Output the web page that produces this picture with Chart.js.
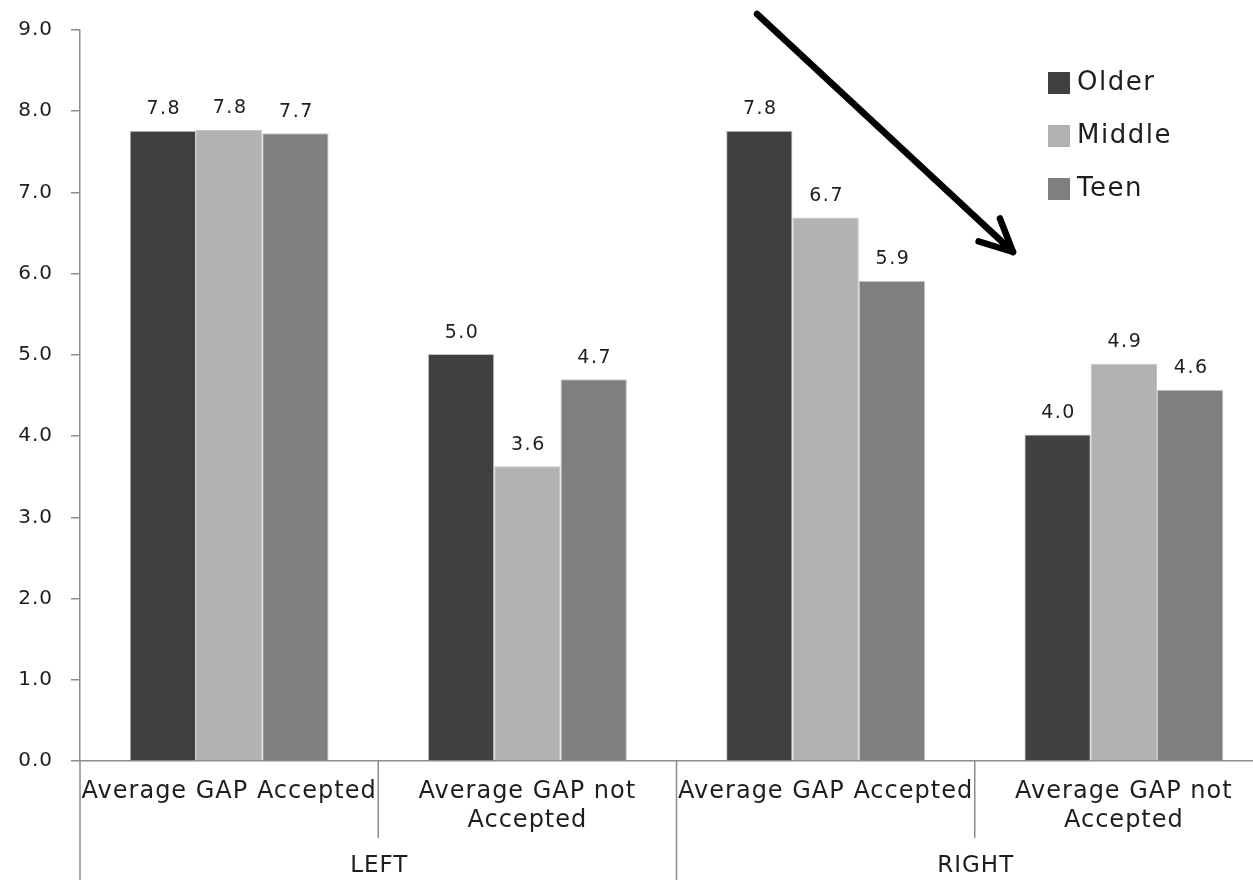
<!DOCTYPE html>
<html lang="en">
<head>
  <meta charset="UTF-8">
  <title>Average GAP by age group</title>
  <script src="https://cdn.jsdelivr.net/npm/chart.js@4.4.0/dist/chart.umd.min.js"></script>
  <style>
    body {
      margin: 0;
      padding: 0;
      background: #fff;
      overflow: hidden;
    }
    .wrap {
      position: relative;
      width: 1278px;
      height: 880px;
    }
  </style>
</head>
<body>
  <div class="wrap">
    <canvas id="myChart"></canvas>
  </div>
  <script>
    // categories (two levels) and series
    const categories = [
      'Average GAP Accepted',
      ['Average GAP not', 'Accepted'],
      'Average GAP Accepted',
      ['Average GAP not', 'Accepted']
    ];
    const groups = ['LEFT', 'RIGHT'];
    const older = [7.76, 5.01, 7.76, 4.02];
    const middle = [7.77, 3.63, 6.69, 4.89];
    const teen = [7.73, 4.70, 5.91, 4.57];
    const seriesNames = ['Older', 'Middle', 'Teen'];
    const seriesColors = ['#404040', '#b2b2b2', '#7f7f7f'];
    const yTicks = [0, 1, 2, 3, 4, 5, 6, 7, 8, 9];

    const axisColor = '#8c8c8c';
    const textColor = '#1e1e1e';

    // the original text is a bit stretched sideways, widen it a little
    const wideText = {
      id: 'wideText',
      beforeDraw(chart) {
        chart.ctx.letterSpacing = '1px';
      }
    };

    // value labels above each bar
    const valueLabels = {
      id: 'valueLabels',
      afterDatasetsDraw(chart) {
        const ctx = chart.ctx;
        ctx.save();
        ctx.letterSpacing = '1.5px';
        ctx.font = '19px "DejaVu Sans"';
        ctx.fillStyle = textColor;
        ctx.textAlign = 'center';
        ctx.textBaseline = 'bottom';
        chart.data.datasets.forEach((ds, i) => {
          chart.getDatasetMeta(i).data.forEach((bar, j) => {
            ctx.fillText(ds.data[j].toFixed(1), bar.x + 1, bar.y - 12);
          });
        });
        ctx.restore();
      }
    };

    // category separators + group labels (LEFT / RIGHT)
    const groupAxis = {
      id: 'groupAxis',
      afterDraw(chart) {
        const ctx = chart.ctx;
        const x = chart.scales.x;
        const area = chart.chartArea;
        const step = x.getPixelForValue(1) - x.getPixelForValue(0);
        ctx.save();
        ctx.strokeStyle = axisColor;
        ctx.lineWidth = 1.5;
        for (let i = 0; i <= categories.length; i++) {
          const px = x.getPixelForValue(0) - step / 2 + i * step;
          const end = (i % 2 === 0) ? chart.height : area.bottom + 77;
          ctx.beginPath();
          ctx.moveTo(px, area.bottom);
          ctx.lineTo(px, end);
          ctx.stroke();
        }
        ctx.letterSpacing = '1px';
        ctx.font = '23px "DejaVu Sans"';
        ctx.fillStyle = textColor;
        ctx.textAlign = 'center';
        ctx.textBaseline = 'middle';
        groups.forEach((g, k) => {
          const cx = (x.getPixelForValue(k * 2) + x.getPixelForValue(k * 2 + 1)) / 2;
          ctx.fillText(g, cx + 1, area.bottom + 105);
        });
        ctx.restore();
      }
    };

    // legend inside the plot, top right
    const cornerLegend = {
      id: 'cornerLegend',
      afterDraw(chart) {
        const ctx = chart.ctx;
        const area = chart.chartArea;
        const left = area.right - 225;
        ctx.save();
        ctx.letterSpacing = '1.5px';
        ctx.font = '26px "DejaVu Sans"';
        ctx.textBaseline = 'middle';
        ctx.textAlign = 'left';
        chart.data.datasets.forEach((ds, i) => {
          const cy = area.top + 53 + i * 53;
          ctx.fillStyle = ds.backgroundColor;
          ctx.fillRect(left, cy - 11, 22, 22);
          ctx.fillStyle = textColor;
          ctx.fillText(ds.label, left + 29, cy);
        });
        ctx.restore();
      }
    };

    // the black arrow annotation
    const arrowNote = {
      id: 'arrowNote',
      afterDraw(chart) {
        const ctx = chart.ctx;
        const area = chart.chartArea;
        const x0 = area.left + 677, y0 = area.top - 16;
        const x1 = area.left + 933, y1 = area.top + 222;
        const ang = Math.atan2(y1 - y0, x1 - x0);
        const head = 36;
        ctx.save();
        ctx.strokeStyle = '#000';
        ctx.lineWidth = 6.5;
        ctx.lineCap = 'round';
        ctx.lineJoin = 'round';
        ctx.beginPath();
        ctx.moveTo(x0, y0);
        ctx.lineTo(x1, y1);
        ctx.stroke();
        ctx.beginPath();
        ctx.moveTo(x1 - head * Math.cos(ang - 0.45), y1 - head * Math.sin(ang - 0.45));
        ctx.lineTo(x1, y1);
        ctx.lineTo(x1 - head * Math.cos(ang + 0.45), y1 - head * Math.sin(ang + 0.45));
        ctx.stroke();
        ctx.restore();
      }
    };

    const seriesData = [older, middle, teen];
    const ctx = document.getElementById('myChart').getContext('2d');
    const myChart = new Chart(ctx, {
      type: 'bar',
      data: {
        labels: categories,
        datasets: seriesNames.map((name, i) => ({
          label: name,
          data: seriesData[i],
          backgroundColor: seriesColors[i],
          borderColor: '#c4c4c4',
          borderWidth: 1,
          categoryPercentage: 0.667,
          barPercentage: 1.0
        }))
      },
      options: {
        responsive: true,
        maintainAspectRatio: false,
        animation: false,
        layout: {
          padding: { top: 29, right: 5, left: 0, bottom: 0 }
        },
        plugins: {
          legend: { display: false },
          tooltip: { enabled: false }
        },
        scales: {
          x: {
            grid: { display: false, drawTicks: false },
            border: { display: true, color: axisColor, width: 1.5 },
            ticks: {
              autoSkip: false,
              maxRotation: 0,
              minRotation: 0,
              padding: 16,
              color: textColor,
              font: { family: 'DejaVu Sans', size: 24, lineHeight: 1.22 }
            },
            afterFit(scale) { scale.height = 119; }
          },
          y: {
            min: 0,
            max: 9,
            afterBuildTicks(scale) {
              scale.ticks = yTicks.map(v => ({ value: v }));
            },
            grid: {
              drawOnChartArea: false,
              drawTicks: true,
              tickLength: 9,
              color: axisColor,
              lineWidth: 1.5
            },
            border: { display: true, color: axisColor, width: 1.5 },
            ticks: {
              padding: 18,
              color: textColor,
              font: { family: 'DejaVu Sans', size: 20 },
              callback: v => v.toFixed(1)
            },
            afterFit(scale) { scale.width = 80; }
          }
        }
      },
      plugins: [wideText, valueLabels, groupAxis, cornerLegend, arrowNote]
    });
  </script>
</body>
</html>
